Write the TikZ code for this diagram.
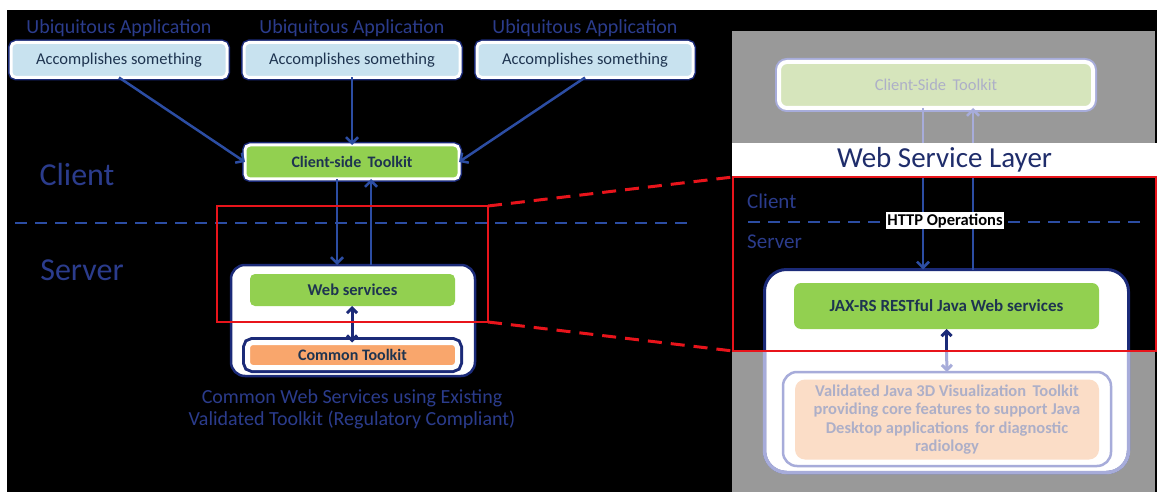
\documentclass[tikz,border=0pt]{standalone}
\usepackage{fontspec}
\setmainfont{Carlito}
\usetikzlibrary{arrows.meta,calc}
\definecolor{lblue}{HTML}{C8E2EF}
\definecolor{gfill}{HTML}{92D050}
\definecolor{ofill}{HTML}{F9A66C}
\definecolor{peach}{HTML}{FBDDC7}
\definecolor{palegreen}{HTML}{D6E5BC}
\definecolor{grayp}{HTML}{999999}
\definecolor{faded}{HTML}{A7ACDA}
\definecolor{fadedtext}{HTML}{ADAFC8}
\definecolor{lblblue}{HTML}{2B3C8C}
\definecolor{navy}{HTML}{1B2A78}
\definecolor{arrblue}{HTML}{2C4DA3}
\definecolor{txtdark}{HTML}{1E3450}
\definecolor{wsltxt}{HTML}{1F2D6B}
\definecolor{redc}{HTML}{E8141B}
\tikzset{
  fs/.style={font=\fontsize{#1}{#1}\selectfont},
  lbl/.style={text=lblblue, font=\fontsize{20}{22}\selectfont, inner sep=0pt},
  appbox/.style={rounded corners=5pt, fill=lblue, draw=white, line width=3pt,
    preaction={draw=navy, line width=6pt}, minimum width=216pt, minimum height=35pt,
    inner sep=0pt, outer sep=0pt, text=txtdark, font=\fontsize{16.5}{18}\selectfont},
  tkbox/.style={appbox, fill=gfill, font=\bfseries\fontsize{16}{17}\selectfont, minimum width=214pt, minimum height=34pt},
  srvbox/.style={rounded corners=14pt, fill=white, draw=navy, line width=2.5pt, inner sep=0pt, outer sep=0pt},
  greenbox/.style={rounded corners=5pt, fill=gfill, inner sep=0pt, outer sep=0pt, text=txtdark},
  arr/.style={draw=arrblue, line width=2.5pt, -{Straight Barb[length=6pt,width=12pt]}},
  plainln/.style={draw=arrblue, line width=2.5pt},
  dbl/.style={draw=navy, line width=3pt, {Straight Barb[length=5pt,width=10pt]}-{Straight Barb[length=5pt,width=10pt]}},
  bdash/.style={draw=arrblue, line width=2.5pt, dash pattern=on 12pt off 8pt},
  rdash/.style={draw=redc, line width=3pt, dash pattern=on 14pt off 9pt},
  side/.style={text=lblblue, inner sep=0pt},
}
\begin{document}
\begin{tikzpicture}[x=1pt,y=-1pt]
\useasboundingbox (0,0) rectangle (1157,492);
\fill[white] (0,0) rectangle (1157,492);
\fill[black] (7,10) rectangle (1157,492);
% right panel background
\fill[grayp] (732,31) rectangle (1155,492);

% ---------------- left panel ----------------
\node[lbl] (l1) at (119,28) {Ubiquitous Application};
\node[lbl] (l2) at (352,28) {Ubiquitous Application};
\node[lbl] (l3) at (585,28) {Ubiquitous Application};
\node[appbox] (app1) at (119,60) {Accomplishes something};
\node[appbox] (app2) at (352,60) {Accomplishes something};
\node[appbox] (app3) at (585,60) {Accomplishes something};
\node[tkbox] (cst) at (352,162) {Client-side\, Toolkit};

\node[side, fs=32] (lclient) at (77,175) {Client};
\node[side, fs=32] (lserver) at (82,270) {Server};

\node[srvbox, minimum width=244pt, minimum height=111pt] (srv) at (353,320.5) {};
\node[greenbox, minimum width=205pt, minimum height=32pt, font=\bfseries\fontsize{16.5}{18}\selectfont] (ws) at (352.5,290) {Web services};
\node[rounded corners=5pt, fill=ofill, draw=white, line width=5pt, preaction={draw=navy, line width=11pt},
      minimum width=210pt, minimum height=25pt, inner sep=0pt, outer sep=0pt, text=txtdark,
      font=\bfseries\fontsize{16}{17}\selectfont] (ct) at (352.5,355) {Common Toolkit};

\draw[arr] (app1.south) -- (cst.west);
\draw[arr] (app3.south) -- (cst.east);
\draw[arr] (app2.south) -- (cst.north);
\draw[arr] ([xshift=-15pt]cst.south) -- ([xshift=-15pt]cst.south |- srv.north);
\draw[arr] ([xshift=19pt]cst.south |- srv.north) -- ([xshift=19pt]cst.south);
\draw[dbl] ([xshift=-0.5pt]ws.south) -- ([xshift=-0.5pt]ws.south |- ct.north);

\coordinate (dl1) at (15,223);
\coordinate (dl2) at (690,223);
\draw[bdash] (dl1) -- (dl2);

\node[text=lblblue, align=center, font=\fontsize{20}{22}\selectfont, inner sep=0pt] (cap) at (352,409.5)
  {Common Web Services using Existing\\Validated Toolkit (Regulatory Compliant)};

\node[draw=redc, line width=2.5pt, minimum width=271pt, minimum height=116pt, inner sep=0pt, outer sep=0pt] (zl) at (352.5,264) {};

% ---------------- right panel ----------------
\node[rounded corners=8pt, fill=palegreen, draw=white, line width=4pt, preaction={draw=faded, line width=8pt},
      minimum width=314pt, minimum height=46pt, inner sep=0pt, outer sep=0pt, text=fadedtext,
      font=\fontsize{16.5}{17}\selectfont] (rtk) at (936,85) {Client-Side\, Toolkit};

\node[fill=white, minimum width=425pt, minimum height=34pt, inner sep=0pt, outer sep=0pt, text=wsltxt,
      font=\fontsize{29}{30}\selectfont] (wsl) at (944.5,160) {Web Service Layer};

\node[fill=black, draw=redc, line width=2.5pt, minimum width=423pt, minimum height=174pt, inner sep=0pt, outer sep=0pt] (zr) at (944.5,264) {};

\node[side, fs=21, anchor=west] (rclient) at (747,201) {Client};
\node[side, fs=21, anchor=west] (rserver) at (747,242) {Server};
\coordinate (dr1) at (748,222);
\coordinate (dr2) at (1147,222);
\draw[bdash] (dr1) -- (dr2);

\node[srvbox, rounded corners=22pt, line width=3pt, minimum width=364pt, minimum height=203pt] (rsrv) at (946.5,371) {};
\begin{scope}
  \clip (700,351) rectangle (1157,492);
  \draw[faded, line width=3.5pt, rounded corners=22pt] (rsrv.north west) rectangle (rsrv.south east);
\end{scope}
\node[greenbox, rounded corners=7pt, minimum width=305pt, minimum height=46pt,
      font=\bfseries\fontsize{17}{18}\selectfont] (jax) at (946.5,306) {JAX-RS RESTful Java Web services};
\node[rounded corners=14pt, fill=white, draw=faded, line width=2.5pt, minimum width=328pt, minimum height=94pt,
      inner sep=0pt, outer sep=0pt] (valo) at (947,419) {};
\node[rounded corners=10pt, fill=peach, minimum width=304pt, minimum height=80pt, inner sep=0pt, outer sep=0pt,
      text=fadedtext, align=center, font=\bfseries\fontsize{16.5}{18.3}\selectfont] (val) at (947,419.5)
  {Validated Java 3D Visualization\, Toolkit\\providing core features to support Java\\Desktop applications\, for diagnostic\\radiology};

% right connectors
\draw[draw=faded, line width=2.5pt] ([xshift=-13pt]rtk.south) -- ([xshift=-13pt]rtk.south |- wsl.north);
\draw[draw=faded, line width=2.5pt, -{Straight Barb[length=6pt,width=12pt]}] ([xshift=37pt]rtk.south |- wsl.north) -- ([xshift=37pt]rtk.south);
\draw[arr] ([xshift=-13pt]rtk.south |- zr.north) -- ([xshift=-13pt]rtk.south |- rsrv.north);
\draw[plainln] ([xshift=37pt]rtk.south |- rsrv.north) -- ([xshift=37pt]rtk.south |- zr.north);
\coordinate (mid) at (946.5,351);
\draw[draw=navy, line width=3pt, -{Straight Barb[length=5pt,width=10pt]}] (mid) -- (jax.south);
\draw[draw=faded, line width=3pt, -{Straight Barb[length=5pt,width=10pt]}] (mid) -- (valo.north);
\draw[draw=redc, line width=2.5pt] (zr.north west) rectangle (zr.south east);

\node[fill=white, text=black, inner sep=1.5pt, font=\bfseries\fontsize{16.5}{17}\selectfont] (http) at (945,220.5) {HTTP Operations};

% zoom lines
\draw[rdash] (zl.north east) -- (zr.north west);
\draw[rdash] (zl.south east) -- (zr.south west);
\end{tikzpicture}
\end{document}
